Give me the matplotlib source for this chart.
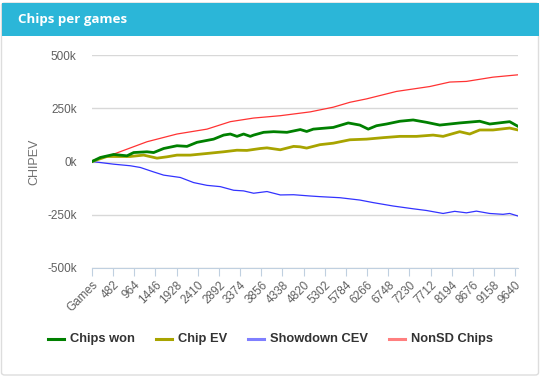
import matplotlib
matplotlib.use("Agg")
import matplotlib.pyplot as plt
from matplotlib.patches import FancyBboxPatch, Rectangle
from matplotlib.lines import Line2D

# series (games, chips)
won_games = [0, 190, 493, 797, 949, 1252, 1404, 1632, 1935, 2163, 2391, 2770, 2998, 3150,
             3302, 3453, 3605, 3681, 3909, 4137, 4440, 4744, 4889, 5040, 5495, 5836, 6101,
             6291, 6480, 6708, 7011, 7314, 7617, 7920, 8375, 8830, 9058, 9512, 9702]
won_vals = [0, 18900, 33000, 26700, 42000, 45600, 42000, 61000, 74000, 71000, 90000, 105000,
            124000, 129000, 118000, 129000, 118000, 124000, 137000, 140000, 137000, 150000,
            141000, 152000, 160000, 181000, 171000, 152000, 168000, 176000, 189000, 195000,
            184000, 171000, 181000, 189000, 176000, 187000, 165000]

ev_games = [0, 341, 645, 873, 1176, 1480, 1708, 1935, 2239, 2619, 2998, 3302, 3529, 3833,
            3985, 4288, 4592, 4737, 4889, 5192, 5495, 5874, 6253, 6632, 7011, 7390, 7769,
            7996, 8375, 8602, 8830, 9133, 9512, 9702]
ev_vals = [0, 23600, 23600, 23600, 30000, 15700, 22000, 30000, 30000, 37700, 45600, 53000,
           52000, 61000, 64000, 55000, 71000, 69000, 63000, 79000, 86000, 102000, 105000,
           112000, 118000, 118000, 124000, 118000, 140000, 129000, 148000, 148000, 157000,
           148000]

sd_games = [0, 493, 873, 1100, 1404, 1632, 2011, 2315, 2619, 2922, 3226, 3453, 3681, 3985,
            4288, 4592, 4971, 5192, 5647, 6101, 6404, 6859, 7314, 7617, 7996, 8261, 8527,
            8754, 9058, 9361, 9512, 9702]
sd_vals = [0, -12600, -20000, -28000, -49000, -64000, -75000, -99000, -112000, -118000,
           -135000, -138000, -149000, -141000, -157000, -156000, -162000, -165000, -170000,
           -181000, -193000, -209000, -222000, -230000, -244000, -234000, -241000, -233000,
           -244000, -248000, -244000, -256000]

nonsd_games = [0, 493, 1252, 1935, 2619, 3150, 3681, 4288, 4971, 5495, 5874, 6253, 6935,
               7693, 8148, 8527, 9133, 9702]
nonsd_vals = [0, 34600, 92700, 129000, 152000, 187000, 204000, 215000, 233000, 255000,
              278000, 294000, 329000, 352000, 373000, 376000, 396000, 407000]

x_ticks = [482 * i for i in range(21)]
x_labels = ["Games"] + [str(v) for v in x_ticks[1:]]
y_ticks = [-500000, -250000, 0, 250000, 500000]
y_labels = ["-500k", "-250k", "0k", "250k", "500k"]

series_names = ["Chips won", "Chip EV", "Showdown CEV", "NonSD Chips"]
line_colors = ["#008000", "#a8a400", "#3333ff", "#ff3333"]
legend_colors = ["#008000", "#a8a400", "#7f7fff", "#ff7f7f"]

W, H = 543, 378
fig = plt.figure(figsize=(W / 100, H / 100), dpi=100)
fig.patch.set_facecolor("white")

# card with blue header
card = FancyBboxPatch((1.5 / W, 3 / H), 537 / W, 372 / H, boxstyle="round,pad=0,rounding_size=0.006",
                      transform=fig.transFigure, facecolor="white", edgecolor="#dddddd", lw=1,
                      zorder=-2)
fig.patches.append(card)
fig.patches.append(Rectangle((1.5 / W, 1 - 36 / H), 537 / W, 33 / H, transform=fig.transFigure,
                             facecolor="#2bb6d8", edgecolor="none", zorder=-1))
fig.text(18 / W, 1 - 19.5 / H, "Chips per games", color="white", fontsize=9.6,
         fontweight="bold", family="Open Sans", va="center", ha="left")

ax = fig.add_axes([92 / W, 1 - 268 / H, 426 / W, 213 / H])
ax.set_facecolor("none")

ax.plot(won_games, won_vals, color=line_colors[0], lw=2, zorder=4)
ax.plot(ev_games, ev_vals, color=line_colors[1], lw=2, zorder=3)
ax.plot(sd_games, sd_vals, color=line_colors[2], lw=0.9, zorder=2)
ax.plot(nonsd_games, nonsd_vals, color=line_colors[3], lw=0.9, zorder=2)

ax.set_xlim(0, 9702)
ax.set_ylim(-500000, 500000)
ax.set_yticks(y_ticks)
ax.set_yticklabels(y_labels)
ax.set_xticks(x_ticks)
ax.set_xticklabels(x_labels, rotation=45, ha="right", rotation_mode="anchor")

for s in ["top", "right", "left"]:
    ax.spines[s].set_visible(False)
ax.spines["bottom"].set_color("#c0d0e0")
ax.grid(axis="y", color="#d8d8d8", lw=1)
ax.set_axisbelow(True)

ax.tick_params(axis="y", length=0, pad=11, labelsize=8.5, labelcolor="#606060")
ax.tick_params(axis="x", length=6, color="#c0d0e0", pad=2, labelsize=8.5, labelcolor="#606060")
for lab in ax.get_xticklabels() + ax.get_yticklabels():
    lab.set_family("Liberation Sans")

ax.set_ylabel("CHIPEV", color="#707070", fontsize=9, family="Liberation Sans", labelpad=5)

# legend row
legend_x = [48, 156, 248, 389]
for x0, name, c in zip(legend_x, series_names, legend_colors):
    fig.add_artist(Line2D([x0 / W, (x0 + 16) / W], [1 - 339 / H, 1 - 339 / H], color=c, lw=2.2,
                          transform=fig.transFigure))
    fig.text((x0 + 22) / W, 1 - 339 / H, name, fontsize=9.3, fontweight="bold",
             color="#333333", family="Liberation Sans", va="center", ha="left")

fig.savefig("out.png", dpi=100)
